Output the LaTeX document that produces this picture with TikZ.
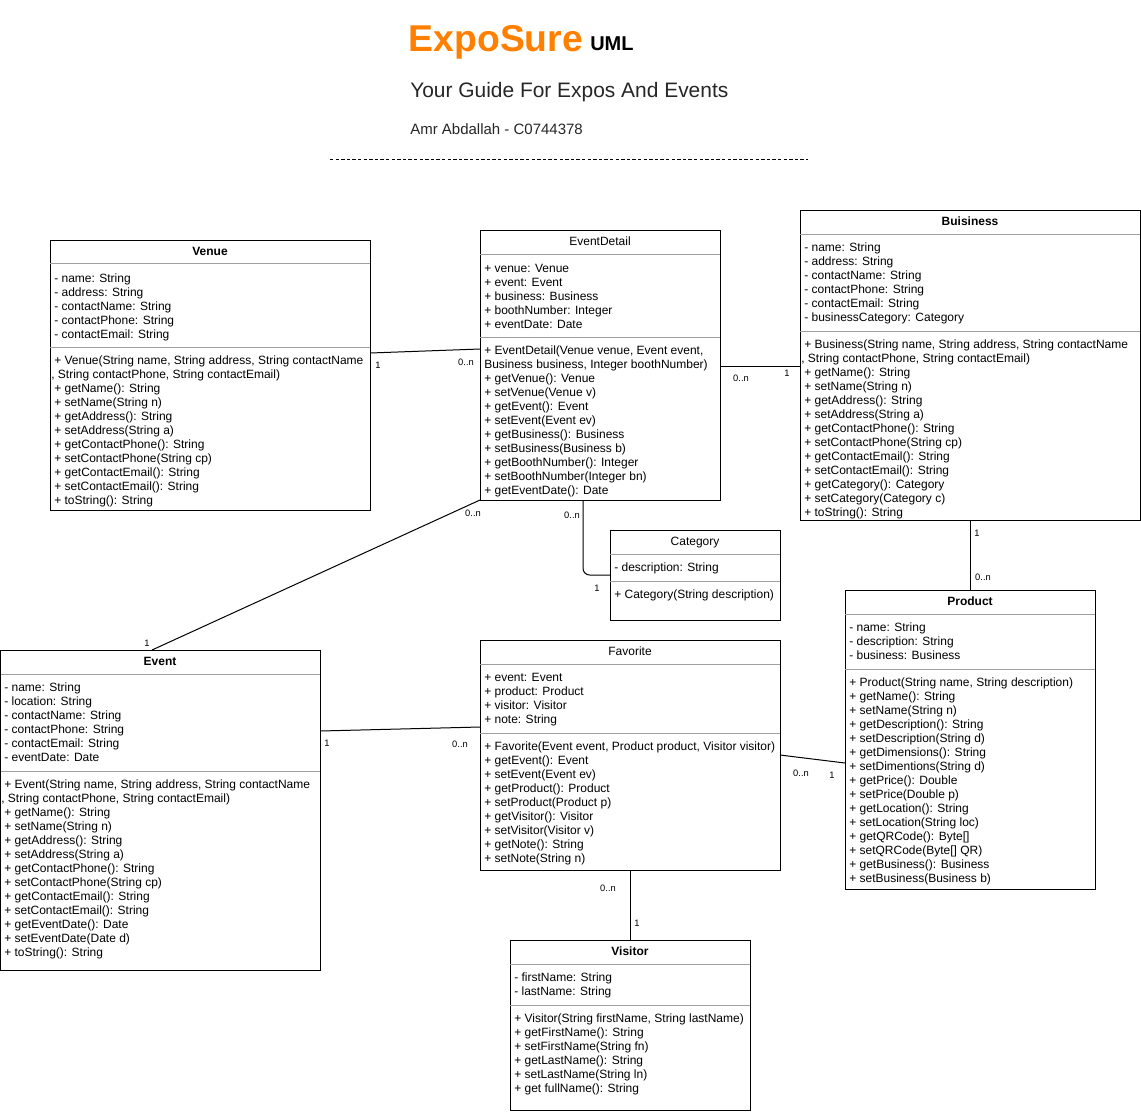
\documentclass[tikz,border=0pt]{standalone}
\usepackage{fontspec}
\setmainfont{Liberation Sans}
\usetikzlibrary{fit}
\definecolor{expoorange}{HTML}{FF8000}
\definecolor{sepgray}{HTML}{A0A0A0}
\tikzset{
  cls/.style={draw=black, line width=0.75pt, inner sep=0pt, outer sep=0pt},
  sepline/.style={draw=sepgray, line width=0.75pt},
  ttlb/.style={font=\fontsize{9}{10.5}\selectfont\bfseries, anchor=base, inner sep=0pt},
  ttlr/.style={font=\fontsize{9}{10.5}\selectfont, anchor=base, inner sep=0pt},
  txt/.style={font=\fontsize{9}{10.5}\selectfont, align=left, anchor=north west, inner sep=0pt},
  mult/.style={font=\fontsize{7}{8}\selectfont, inner sep=0pt},
  assoc/.style={draw=black, line width=0.75pt}
}
\begin{document}
\begin{tikzpicture}[x=0.75pt,y=-0.75pt]
\useasboundingbox (0,0) rectangle (1141,1111);

% ---------- header ----------
\node[anchor=base west, inner sep=0pt, text=expoorange, font=\fontsize{28}{31}\selectfont\bfseries] (brand) at (408.5,51) {ExpoSure};
\node[anchor=base west, inner sep=0pt, font=\fontsize{15}{18}\selectfont\bfseries] (uml) at (590,50.5) {UML};
\node[anchor=base west, inner sep=0pt, text=black!85, font=\fontsize{15.7}{18}\selectfont] (sub) at (410,97.5) {Your Guide For Expos And Events};
\node[anchor=base west, inner sep=0pt, text=black!85, font=\fontsize{11.25}{13}\selectfont] (author) at (410,134) {Amr Abdallah - C0744378};
\coordinate (dashL) at (330,159);
\coordinate (dashR) at (808,159);
\draw[line width=0.75pt, dash pattern=on 2.6pt off 1.6pt] (dashL) -- (dashR);

% ---------- Venue ----------
\node[cls, fit={(50,240)(370,510)}] (venue) {};
\node[ttlb] (venueT) at (210,255.3) {Venue};
\draw[sepline] (50,263) -- (370,263);
\node[txt] (venueA) at (54,273.5) {- name: String\\- address: String\\- contactName: String\\- contactPhone: String\\- contactEmail: String};
\draw[sepline] (50,347) -- (370,347);
\node[txt] (venueM) at (54,355.5) {+ Venue(String name, String address, String contactName\\\hspace*{-2.25pt}, String contactPhone, String contactEmail)\\+ getName(): String\\+ setName(String n)\\+ getAddress(): String\\+ setAddress(String a)\\+ getContactPhone(): String\\+ setContactPhone(String cp)\\+ getContactEmail(): String\\+ setContactEmail(): String\\+ toString(): String};

% ---------- EventDetail ----------
\node[cls, fit={(480,230)(720,500)}] (evdet) {};
\node[ttlr] (evdetT) at (600,245.3) {EventDetail};
\draw[sepline] (480,254) -- (720,254);
\node[txt] (evdetA) at (484,263.5) {+ venue: Venue\\+ event: Event\\+ business: Business\\+ boothNumber: Integer\\+ eventDate: Date};
\draw[sepline] (480,337) -- (720,337);
\node[txt] (evdetM) at (484,345.5) {+ EventDetail(Venue venue, Event event,\\Business business, Integer boothNumber)\\+ getVenue(): Venue\\+ setVenue(Venue v)\\+ getEvent(): Event\\+ setEvent(Event ev)\\+ getBusiness(): Business\\+ setBusiness(Business b)\\+ getBoothNumber(): Integer\\+ setBoothNumber(Integer bn)\\+ getEventDate(): Date};

% ---------- Buisiness ----------
\node[cls, fit={(800,210)(1140,520)}] (bus) {};
\node[ttlb] (busT) at (970,225.3) {Buisiness};
\draw[sepline] (800,234) -- (1140,234);
\node[txt] (busA) at (804,242.5) {- name: String\\- address: String\\- contactName: String\\- contactPhone: String\\- contactEmail: String\\- businessCategory: Category};
\draw[sepline] (800,331) -- (1140,331);
\node[txt] (busM) at (804,339.5) {+ Business(String name, String address, String contactName\\\hspace*{-2.25pt}, String contactPhone, String contactEmail)\\+ getName(): String\\+ setName(String n)\\+ getAddress(): String\\+ setAddress(String a)\\+ getContactPhone(): String\\+ setContactPhone(String cp)\\+ getContactEmail(): String\\+ setContactEmail(): String\\+ getCategory(): Category\\+ setCategory(Category c)\\+ toString(): String};

% ---------- Category ----------
\node[cls, fit={(610,530)(780,620)}] (cat) {};
\node[ttlr] (catT) at (695,545.3) {Category};
\draw[sepline] (610,554) -- (780,554);
\node[txt] (catA) at (614,562.5) {- description: String};
\draw[sepline] (610,581) -- (780,581);
\node[txt] (catM) at (614,589.5) {+ Category(String description)};

% ---------- Event ----------
\node[cls, fit={(0.5,650)(320,970)}] (event) {};
\node[ttlb] (eventT) at (160,665.3) {Event};
\draw[sepline] (0.5,674) -- (320,674);
\node[txt] (eventA) at (4,682.5) {- name: String\\- location: String\\- contactName: String\\- contactPhone: String\\- contactEmail: String\\- eventDate: Date};
\draw[sepline] (0.5,771) -- (320,771);
\node[txt] (eventM) at (4,779.5) {+ Event(String name, String address, String contactName\\\hspace*{-2.25pt}, String contactPhone, String contactEmail)\\+ getName(): String\\+ setName(String n)\\+ getAddress(): String\\+ setAddress(String a)\\+ getContactPhone(): String\\+ setContactPhone(String cp)\\+ getContactEmail(): String\\+ setContactEmail(): String\\+ getEventDate(): Date\\+ setEventDate(Date d)\\+ toString(): String};

% ---------- Favorite ----------
\node[cls, fit={(480,640)(780,870)}] (fav) {};
\node[ttlr] (favT) at (630,655.3) {Favorite};
\draw[sepline] (480,664) -- (780,664);
\node[txt] (favA) at (484,672.5) {+ event: Event\\+ product: Product\\+ visitor: Visitor\\+ note: String};
\draw[sepline] (480,733) -- (780,733);
\node[txt] (favM) at (484,741.5) {+ Favorite(Event event, Product product, Visitor visitor)\\+ getEvent(): Event\\+ setEvent(Event ev)\\+ getProduct(): Product\\+ setProduct(Product p)\\+ getVisitor(): Visitor\\+ setVisitor(Visitor v)\\+ getNote(): String\\+ setNote(String n)};

% ---------- Product ----------
\node[cls, fit={(845,590)(1095,889)}] (prod) {};
\node[ttlb] (prodT) at (970,605.3) {Product};
\draw[sepline] (845,614) -- (1095,614);
\node[txt] (prodA) at (849,622.5) {- name: String\\- description: String\\- business: Business};
\draw[sepline] (845,669) -- (1095,669);
\node[txt] (prodM) at (849,677.5) {+ Product(String name, String description)\\+ getName(): String\\+ setName(String n)\\+ getDescription(): String\\+ setDescription(String d)\\+ getDimensions(): String\\+ setDimentions(String d)\\+ getPrice(): Double\\+ setPrice(Double p)\\+ getLocation(): String\\+ setLocation(String loc)\\+ getQRCode(): Byte[]\\+ setQRCode(Byte[] QR)\\+ getBusiness(): Business\\+ setBusiness(Business b)};

% ---------- Visitor ----------
\node[cls, fit={(510,940)(750,1110)}] (vis) {};
\node[ttlb] (visT) at (630,955.3) {Visitor};
\draw[sepline] (510,964) -- (750,964);
\node[txt] (visA) at (514,972.5) {- firstName: String\\- lastName: String};
\draw[sepline] (510,1005) -- (750,1005);
\node[txt] (visM) at (514,1013.5) {+ Visitor(String firstName, String lastName)\\+ getFirstName(): String\\+ setFirstName(String fn)\\+ getLastName(): String\\+ setLastName(String ln)\\+ get fullName(): String};

% ---------- associations ----------
\draw[assoc] (venue.east |- 0,353) -- (evdet.west |- 0,349);
\node[mult] (m1a) at (378,365) {1};
\node[mult] (m1b) at (466,362) {0..n};

\draw[assoc] (evdet.east |- 0,366) -- (bus.west |- 0,366);
\node[mult] (m2a) at (741,378) {0..n};
\node[mult] (m2b) at (787,373) {1};

\draw[assoc] (evdet.south west) -- (152,0 |- event.north);
\node[mult] (m3a) at (473,513) {0..n};
\node[mult] (m3b) at (147,643) {1};

\draw[assoc, rounded corners=5pt] (583,0 |- evdet.south) |- (cat.west |- 0,575);
\node[mult] (m4a) at (572,515) {0..n};
\node[mult] (m4b) at (597,588) {1};

\draw[assoc] (bus.south) -- (prod.north -| bus.south);
\node[mult] (m5a) at (977,533) {1};
\node[mult] (m5b) at (983,577) {0..n};

\draw[assoc] (event.east |- 0,731) -- (fav.west |- 0,727);
\node[mult] (m6a) at (327,743) {1};
\node[mult] (m6b) at (460,744) {0..n};

\draw[assoc] (fav.east |- 0,755) -- (prod.west |- 0,763);
\node[mult] (m7a) at (801,773) {0..n};
\node[mult] (m7b) at (832,775) {1};

\draw[assoc] (fav.south) -- (vis.north);
\node[mult] (m8a) at (608,888) {0..n};
\node[mult] (m8b) at (637,923) {1};
\end{tikzpicture}
\end{document}
